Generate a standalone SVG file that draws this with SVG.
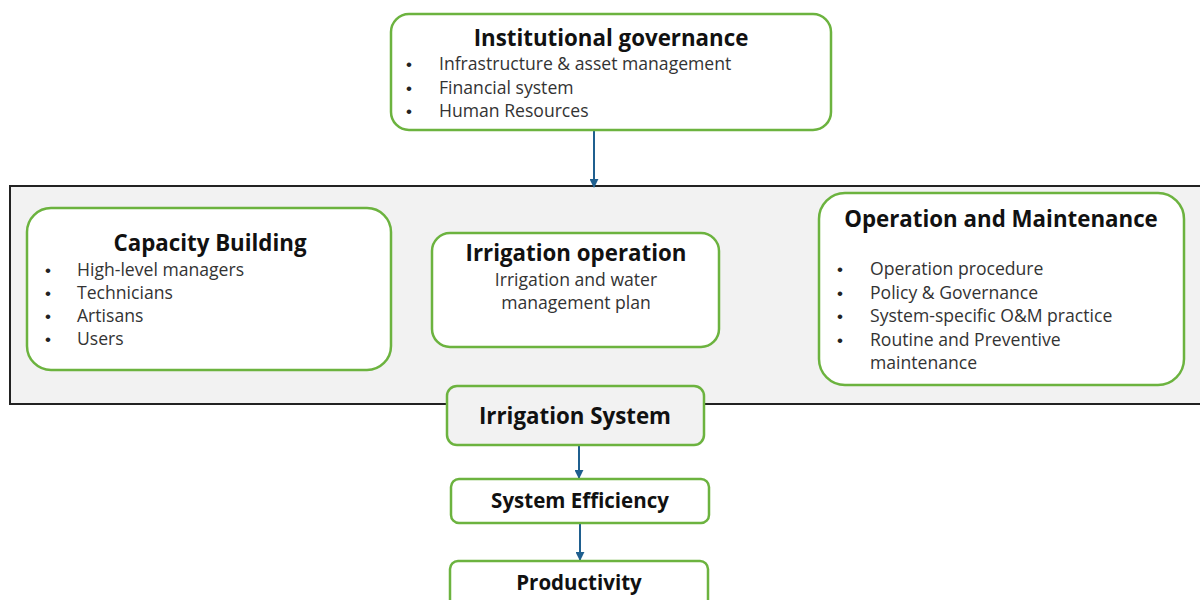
<svg xmlns="http://www.w3.org/2000/svg" width="1200" height="600" viewBox="0 0 1200 600">
<defs>
<style>
.box{fill:#ffffff;stroke:#6cb33f;stroke-width:2.5}
.gbox{fill:#f2f2f2;stroke:#6cb33f;stroke-width:2.5}
.title{font-family:"Open Sans","Liberation Sans",Arial,sans-serif;font-weight:bold;fill:#111;text-anchor:middle}
.item{font-family:"Open Sans","Liberation Sans",Arial,sans-serif;font-size:17.6px;fill:#333}
.bul{font-family:"Liberation Sans",Arial,sans-serif;font-size:17px;fill:#222}
.mid{text-anchor:middle}
.conn{stroke:#1f5f8f;stroke-width:2;fill:none;marker-end:url(#ah)}
</style>
<marker id="ah" viewBox="0 0 10 10" refX="9" refY="5" markerWidth="4.5" markerHeight="4.5" orient="auto">
<path d="M0,0 L10,5 L0,10 z" fill="#1f5f8f"/>
</marker>
</defs>
<rect width="1200" height="600" fill="#ffffff"/>
<rect id="container" x="10" y="186" width="1195" height="218" fill="#f2f2f2" stroke="#222" stroke-width="2"/>
<g id="connectors">
<line class="conn" x1="594" y1="131" x2="594" y2="187"/>
<line class="conn" x1="579" y1="446" x2="579" y2="478"/>
<line class="conn" x1="580" y1="524" x2="580" y2="560"/>
</g>
<g id="institutional">
<rect class="box" x="391" y="14" width="440" height="116" rx="18"/>
<text class="title" x="611" y="46" font-size="22.3">Institutional governance</text>
<text class="bul" x="406" y="70">•</text><text class="item" x="439" y="70">Infrastructure &amp; asset management</text>
<text class="bul" x="406" y="94">•</text><text class="item" x="439" y="94">Financial system</text>
<text class="bul" x="406" y="117">•</text><text class="item" x="439" y="117">Human Resources</text>
</g>
<g id="capacity">
<rect class="box" x="27" y="208" width="364" height="162" rx="24"/>
<text class="title" x="210" y="251" font-size="22.3">Capacity Building</text>
<text class="bul" x="45" y="276">•</text><text class="item" x="77" y="276">High-level managers</text>
<text class="bul" x="45" y="299">•</text><text class="item" x="77" y="299">Technicians</text>
<text class="bul" x="45" y="322">•</text><text class="item" x="77" y="322">Artisans</text>
<text class="bul" x="45" y="345">•</text><text class="item" x="77" y="345">Users</text>
</g>
<g id="irrigation-operation">
<rect class="box" x="432" y="233" width="287" height="114" rx="18"/>
<text class="title" x="576" y="261" font-size="22.3">Irrigation operation</text>
<text class="item mid" x="576" y="286">Irrigation and water</text>
<text class="item mid" x="576" y="309">management plan</text>
</g>
<g id="om">
<rect class="box" x="819" y="193" width="365" height="192" rx="26"/>
<text class="title" x="1001" y="227" font-size="22.3">Operation and Maintenance</text>
<text class="bul" x="837" y="275">•</text><text class="item" x="870" y="275">Operation procedure</text>
<text class="bul" x="837" y="299">•</text><text class="item" x="870" y="299">Policy &amp; Governance</text>
<text class="bul" x="837" y="322">•</text><text class="item" x="870" y="322">System-specific O&amp;M practice</text>
<text class="bul" x="837" y="346">•</text><text class="item" x="870" y="346">Routine and Preventive</text>
<text class="item" x="870" y="369">maintenance</text>
</g>
<g id="irrigation-system">
<rect class="gbox" x="447" y="386" width="257" height="59" rx="10"/>
<text class="title" x="575" y="424" font-size="22.3">Irrigation System</text>
</g>
<g id="system-efficiency">
<rect class="box" x="451" y="479" width="258" height="44" rx="8"/>
<text class="title" x="580" y="508" font-size="20.5">System Efficiency</text>
</g>
<g id="productivity">
<rect class="box" x="450" y="561" width="258" height="50" rx="8"/>
<text class="title" x="579" y="590" font-size="20.5">Productivity</text>
</g>
</svg>
